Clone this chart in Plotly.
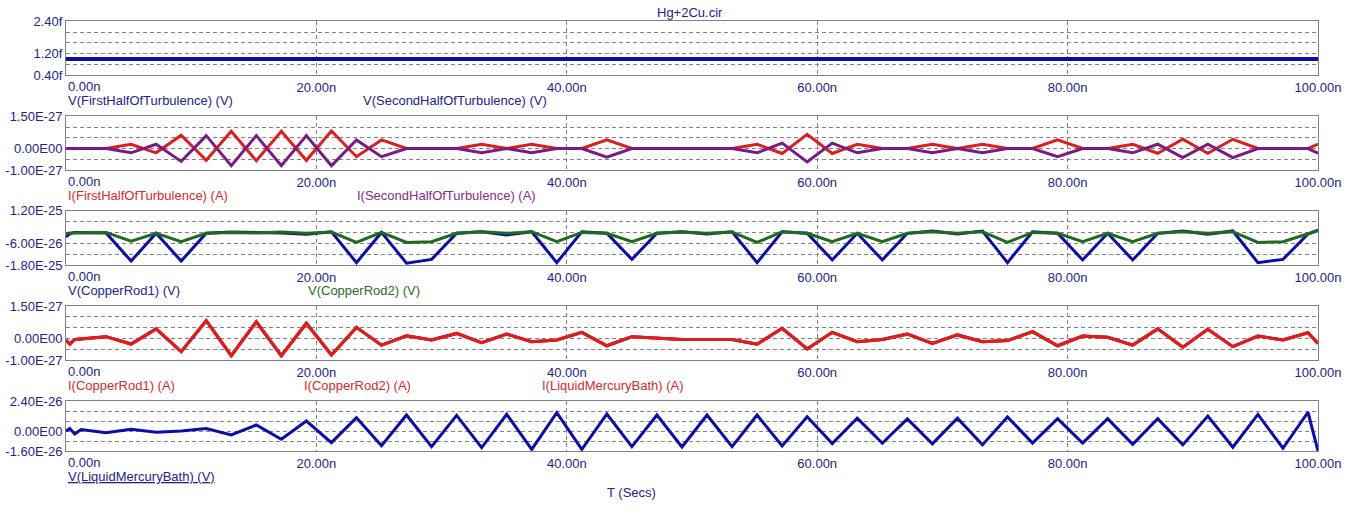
import plotly.graph_objects as go

# time axis in ns (simulation points)
t_ns = [0, 0.3, 0.7, 1.2, 3.2, 5.2, 7.2, 9.2, 11.2, 13.2, 15.2, 17.2, 19.2,
        21.2, 23.2, 25.2, 27.2, 29.2, 31.2, 33.2, 35.2, 37.2, 39.2, 41.2,
        43.2, 45.2, 47.2, 49.2, 51.2, 53.2, 55.2, 57.2, 59.2, 61.2, 63.2,
        65.2, 67.2, 69.2, 71.2, 73.2, 75.2, 77.2, 79.2, 81.2, 83.2, 85.2,
        87.2, 89.2, 91.2, 93.2, 95.2, 97.2, 99.2, 100]
t_span = [0, 100]

# panel 1: V(FirstHalfOfTurbulence), V(SecondHalfOfTurbulence)  [fV]
v_first_half = [1.0, 1.0]
v_second_half = [1.0, 1.0]

# panel 2: currents through the turbulence halves  [1e-27 A]
i_first_half = [0, 0, 0, 0, 0, 0.2, -0.2, 0.62, -0.55, 0.8, -0.57, 0.8, -0.55,
                0.82, -0.38, 0.4, 0, 0, 0, 0.2, 0, 0.2, 0, 0, 0.4, 0, 0, 0, 0,
                0, 0.2, -0.23, 0.66, -0.23, 0.2, 0, 0, 0.2, 0, 0.2, 0, 0, 0.4,
                0, 0, 0.2, -0.22, 0.43, -0.22, 0.43, 0, 0, 0, 0.2]
i_second_half = [0, 0, 0, 0, 0, -0.2, 0.2, -0.6, 0.6, -0.8, 0.6, -0.8, 0.6,
                 -0.8, 0.4, -0.38, 0, 0, 0, -0.2, 0, -0.2, 0, 0, -0.4, 0, 0, 0,
                 0, 0, -0.2, 0.25, -0.62, 0.25, -0.2, 0, 0, -0.2, 0, -0.2, 0, 0,
                 -0.38, 0, 0, -0.2, 0.2, -0.42, 0.2, -0.42, 0, 0, 0, -0.22]

# panel 3: copper rod voltages  [1e-26 V]
v_rod1 = [-2.5, -0.8, 0, 0, -0.3, -15.8, -0.5, -15.8, -0.5, 0.2, 0, -0.3, -1.0,
          0.4, -16.7, 0, -17, -14.9, -0.5, 0.4, -1.4, 0.4, -16.7, 0.4, -0.5,
          -14.9, -0.5, 0.4, -0.9, 0.4, -16.7, 0.4, -0.5, -15.2, -0.5, -15.2,
          -0.5, 0.8, -0.9, 0.8, -16.7, 0.4, -0.5, -15.2, -0.5, -15.2, -0.5,
          0.8, -1.0, 0.8, -16.7, -14.9, -0.9, 1.3]
v_rod2 = [-0.8, -0.3, -0.3, -0.3, 0, -4.8, -0.5, -5.1, -0.5, 0, -0.3, 0.2, -0.5,
          0.2, -5.5, 0, -5.5, -5.1, -0.5, 0.4, -0.5, 0.4, -5.1, 0, -0.5, -5.1,
          -0.5, 0.2, -0.5, 0.2, -5.5, 0.4, -0.5, -5.1, -0.5, -5.1, -0.5, 0.4,
          -0.5, 0.4, -5.5, 0, -0.5, -5.1, -0.5, -5.1, -0.5, 0.4, -0.5, 0.4,
          -5.5, -5.1, -0.5, 1.0]

# panel 4: I(CopperRod1) = I(CopperRod2) = I(LiquidMercuryBath)  [1e-27 A]
i_rods = [-0.07, -0.26, -0.05, -0.03, 0.08, -0.26, 0.44, -0.61, 0.82, -0.8,
          0.77, -0.8, 0.7, -0.77, 0.51, -0.31, 0.12, -0.07, 0.23, -0.2, 0.2,
          -0.15, -0.07, 0.28, -0.34, 0.08, 0.03, -0.05, -0.05, -0.05, -0.27,
          0.47, -0.49, 0.28, -0.15, -0.05, 0.2, -0.23, 0.16, -0.15, -0.1, 0.31,
          -0.34, 0.11, 0.05, -0.31, 0.44, -0.41, 0.42, -0.38, 0.11, -0.07,
          0.26, -0.23]

# panel 5: V(LiquidMercuryBath)  [1e-26 V]
v_bath = [0, 0.2, -0.24, 0.12, -0.13, 0.14, -0.1, 0, 0.2, -0.32, 0.48, -0.66,
          0.8, -0.93, 1.07, -1.17, 1.28, -1.25, 1.25, -1.33, 1.33, -1.47, 1.47,
          -1.47, 1.36, -1.25, 1.28, -1.28, 1.28, -1.25, 1.28, -1.2, 1.14, -1.0,
          1.03, -0.98, 0.97, -1.03, 1.03, -1.11, 1.13, -0.97, 0.99, -0.97,
          0.99, -1.06, 0.99, -1.11, 1.2, -1.3, 1.33, -1.38, 1.5, -1.6]

x_ticks = [0, 20, 40, 60, 80, 100]
x_ticktext = ["", "20.00n", "40.00n", "60.00n", "80.00n", "100.00n"]

y_ticks = [
    [0.4, 0.8, 1.2, 1.6, 2.0, 2.4],
    [-1.0, -0.5, 0, 0.5, 1.0, 1.5],
    [-18, -12, -6, 0, 6, 12],
    [-1.0, -0.5, 0, 0.5, 1.0, 1.5],
    [-1.6, -0.8, 0, 0.8, 1.6, 2.4],
]
y_ticktext = [
    ["0.40f", "", "1.20f", "", "", "2.40f"],
    ["-1.00E-27", "", "0.00E00", "", "", "1.50E-27"],
    ["-1.80E-25", "", "-6.00E-26", "", "", "1.20E-25"],
    ["-1.00E-27", "", "0.00E00", "", "", "1.50E-27"],
    ["-1.60E-26", "", "0.00E00", "", "", "2.40E-26"],
]

W, H = 1353, 513
LEFT, RIGHT = 66, 1318
NAVY = "#23238c"
BLUE = "#0c0ca8"
RED = "#dc1e1e"
PURPLE = "#7a1a86"
GREEN = "#1f6a1f"
GRID = "#828282"
FONT = "Liberation Sans, Arial, sans-serif"

# panel boxes, pixel rows (top, bottom)
boxes = [(21.3, 75), (116.3, 170), (210.7, 265), (306, 360), (401, 451)]


def px(xp):
    return (xp - LEFT) / (RIGHT - LEFT)


def py(yp):
    return (H - yp) / H


fig = go.Figure()

panels = [
    [(t_span, v_first_half, BLUE), (t_span, v_second_half, BLUE)],
    [(t_ns, i_first_half, RED), (t_ns, i_second_half, PURPLE)],
    [(t_ns, v_rod1, BLUE), (t_ns, v_rod2, GREEN)],
    [(t_ns, i_rods, RED), (t_ns, i_rods, RED), (t_ns, i_rods, RED)],
    [(t_ns, v_bath, BLUE)],
]

for k, traces in enumerate(panels):
    n = "" if k == 0 else str(k + 1)
    for x, y, c in traces:
        fig.add_trace(go.Scatter(x=x, y=y, mode="lines",
                                 line=dict(color=c, width=4 if k == 0 else 3),
                                 xaxis="x" + n, yaxis="y" + n,
                                 hoverinfo="skip"))
    top, bot = boxes[k]
    common = dict(showline=True, linecolor=GRID, linewidth=1, mirror=True,
                  showgrid=True, gridcolor=GRID, griddash="4px,3px",
                  gridwidth=1, zeroline=False, ticks="", automargin=False,
                  tickfont=dict(family=FONT, size=13, color=NAVY))
    fig.layout["xaxis" + n] = dict(common, domain=[0, 1], range=[0, 100],
                                   anchor="y" + n, tickvals=x_ticks,
                                   ticktext=x_ticktext)
    fig.layout["yaxis" + n] = dict(common, domain=[py(bot), py(top)],
                                   range=[y_ticks[k][0], y_ticks[k][-1]],
                                   anchor="x" + n, tickvals=y_ticks[k],
                                   ticktext=y_ticktext[k])
    # the 0.00n label sits left-aligned under each panel
    fig.add_annotation(x=0, y=py(bot + 11), xref="paper", yref="paper",
                       text="0.00n", showarrow=False, xanchor="left",
                       yanchor="middle", font=dict(color=NAVY))

labels = [
    (66, 100, "V(FirstHalfOfTurbulence) (V)", NAVY),
    (361, 100, "V(SecondHalfOfTurbulence) (V)", NAVY),
    (66, 195, "I(FirstHalfOfTurbulence) (A)", "#d52a2a"),
    (355, 195, "I(SecondHalfOfTurbulence) (A)", "#8a2a8a"),
    (66, 290.7, "V(CopperRod1) (V)", NAVY),
    (306, 290.7, "V(CopperRod2) (V)", "#2a6a2a"),
    (66, 385, "I(CopperRod1) (A)", "#d52a2a"),
    (302, 385, "I(CopperRod2) (A)", "#d52a2a"),
    (540, 385, "I(LiquidMercuryBath) (A)", "#d52a2a"),
    (66, 476.7, "<u>V(LiquidMercuryBath) (V)</u>", NAVY),
]
for xl, yl, txt, col in labels:
    fig.add_annotation(x=px(xl), y=py(yl), xref="paper", yref="paper",
                       text=txt, showarrow=False, xanchor="left",
                       yanchor="middle", font=dict(color=col))

fig.add_annotation(x=px(690), y=py(12), xref="paper", yref="paper",
                   text="Hg+2Cu.cir", showarrow=False, xanchor="center",
                   yanchor="middle", font=dict(color=NAVY))
fig.add_annotation(x=px(631), y=py(492.7), xref="paper", yref="paper",
                   text="T (Secs)", showarrow=False, xanchor="center",
                   yanchor="middle", font=dict(color=NAVY))

fig.update_layout(width=W, height=H,
                  margin=dict(l=LEFT, r=W - RIGHT, t=0, b=0, pad=0,
                              autoexpand=False),
                  paper_bgcolor="white", plot_bgcolor="white",
                  showlegend=False,
                  font=dict(family=FONT, size=13, color=NAVY))

fig.write_html("out.html", config={"displayModeBar": False},
               post_script="document.body.style.margin='0';"
                           "document.body.style.overflow='hidden';")
